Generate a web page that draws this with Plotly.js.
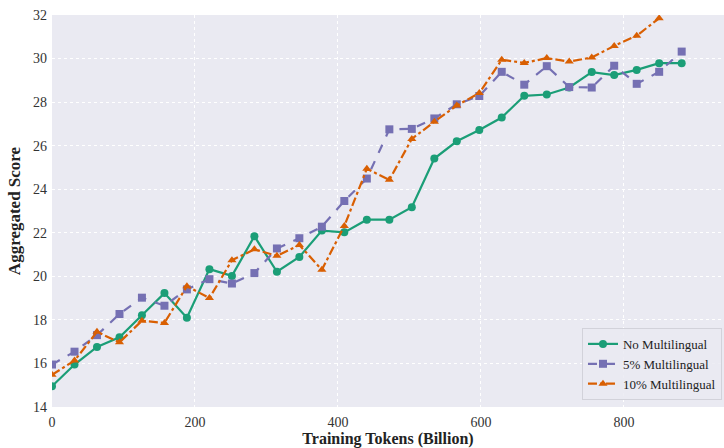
<!DOCTYPE html>
<html>
<head>
<meta charset="utf-8">
<script src="https://cdn.plot.ly/plotly-3.0.1.min.js"></script>
<style>html,body{margin:0;padding:0;background:#fff;}#chart{width:724px;height:448px;}</style>
</head>
<body>
<div id="chart"></div>
<script>
const tokens = [0, 31.5, 62.9, 94.4, 125.8, 157.3, 188.7, 220.2, 251.7, 283.1, 314.6, 346.0, 377.5, 408.9, 440.4, 471.9, 503.3, 534.8, 566.2, 597.7, 629.1, 660.6, 692.1, 723.5, 755.0, 786.4, 817.9, 849.3, 880.8];
const noMulti = [14.95, 15.95, 16.76, 17.20, 18.21, 19.23, 18.10, 20.33, 20.02, 21.84, 20.21, 20.89, 22.10, 22.02, 22.60, 22.60, 23.17, 25.41, 26.20, 26.72, 27.29, 28.29, 28.35, 28.67, 29.38, 29.24, 29.48, 29.79, 29.79];
const multi5 = [15.95, 16.54, 17.30, 18.27, 19.02, 18.65, 19.40, 19.87, 19.67, 20.15, 21.28, 21.75, 22.28, 23.46, 24.49, 26.75, 26.77, 27.25, 27.90, 28.28, 29.39, 28.80, 29.65, 28.69, 28.67, 29.67, 28.84, 29.39, 30.32];
const multi10 = [15.48, 16.13, 17.45, 16.97, 17.96, 17.86, 19.55, 19.00, 20.74, 21.24, 20.94, 21.44, 20.30, 22.31, 24.94, 24.43, 26.31, 27.10, 27.84, 28.42, 29.94, 29.80, 30.02, 29.86, 30.05, 30.58, 31.05, 31.85];
const names = ["No Multilingual", "5% Multilingual", "10% Multilingual"];
const xTicks = [0, 200, 400, 600, 800];
const yTicks = [14, 16, 18, 20, 22, 24, 26, 28, 30, 32];

const font = "Liberation Serif";
const traces = [
  {x: tokens, y: noMulti, name: names[0], mode: "lines+markers",
   line: {color: "#1b9e77", width: 2.2, dash: "solid"},
   marker: {symbol: "circle", size: 8, color: "#1b9e77"}},
  {x: tokens.slice(0, multi5.length), y: multi5, name: names[1], mode: "lines+markers",
   line: {color: "#7570b3", width: 2.2, dash: "dash"},
   marker: {symbol: "square", size: 8, color: "#7570b3"}},
  {x: tokens.slice(0, multi10.length), y: multi10, name: names[2], mode: "lines+markers",
   line: {color: "#d95f02", width: 2.2, dash: "dashdot"},
   marker: {symbol: "triangle-up", size: 8, color: "#d95f02"}}
];
const layout = {
  width: 724, height: 448,
  margin: {l: 52, r: 0, t: 15, b: 41},
  paper_bgcolor: "#ffffff",
  plot_bgcolor: "#eaeaf2",
  font: {family: font, size: 14, color: "#333333"},
  showlegend: true,
  xaxis: {
    range: [0, 940], tickvals: xTicks,
    showgrid: true, gridcolor: "#ffffff", griddash: "dot", gridwidth: 1,
    zeroline: false, showline: false, ticks: "", ticklabelstandoff: 5,
    tickfont: {family: font, size: 14, color: "#333"},
    title: {text: "<b>Training Tokens (Billion)</b>", font: {family: font, size: 16, color: "#222"}, standoff: 2}
  },
  yaxis: {
    range: [14, 32], tickvals: yTicks,
    showgrid: true, gridcolor: "#ffffff", griddash: "dot", gridwidth: 1,
    zeroline: false, showline: false, ticks: "", ticklabelstandoff: 4,
    tickfont: {family: font, size: 14, color: "#333"},
    title: {text: "<b>Aggregated Score</b>", font: {family: font, size: 17, color: "#222"}, standoff: 8}
  },
  legend: {
    x: 0.997, xanchor: "right", y: 0.018, yanchor: "bottom",
    bgcolor: "rgba(234,234,242,0.85)", bordercolor: "#d2d2da", borderwidth: 1,
    font: {family: font, size: 13, color: "#222"},
    tracegroupgap: 0
  }
};
Plotly.newPlot("chart", traces, layout, {displayModeBar: false, staticPlot: true});
</script>
</body>
</html>
